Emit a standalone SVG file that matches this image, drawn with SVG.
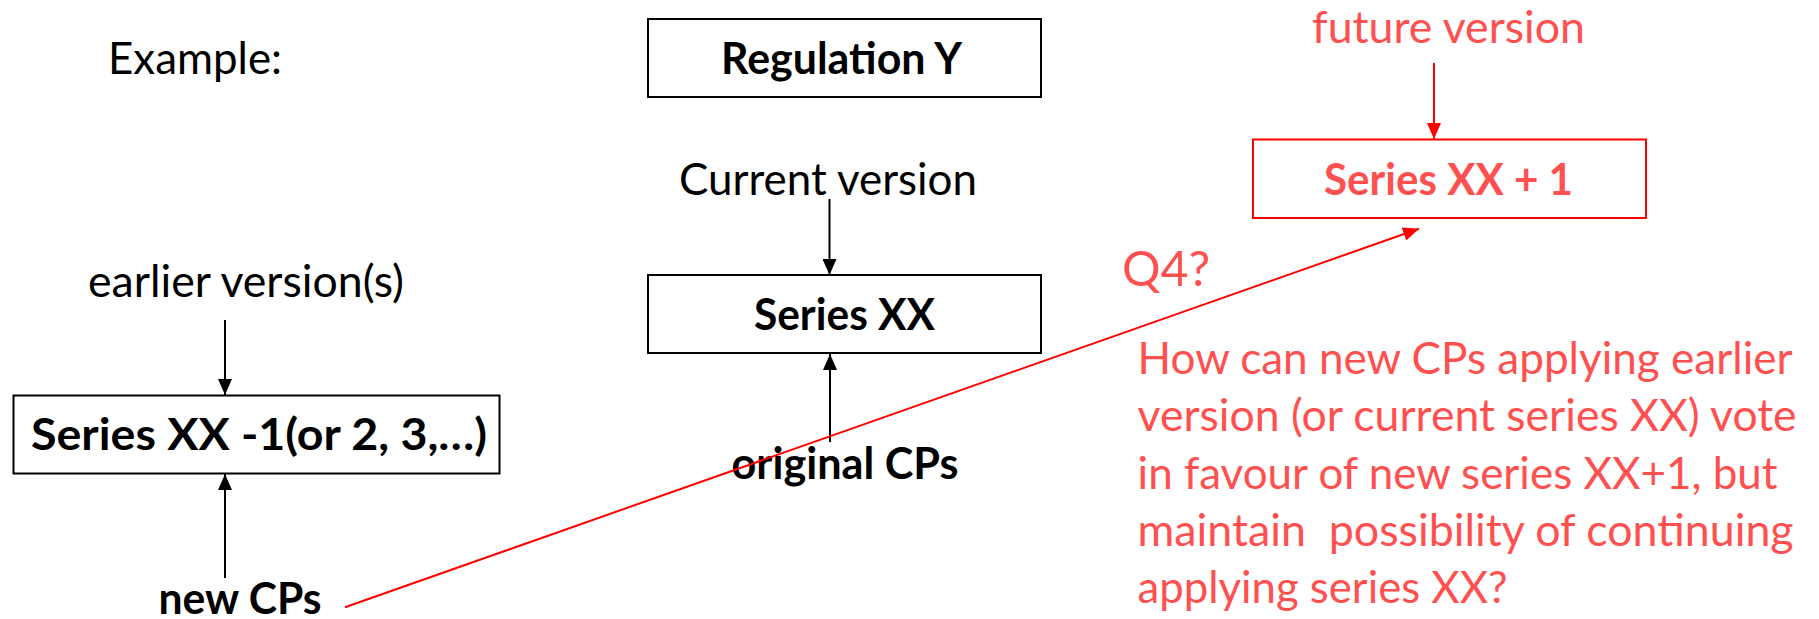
<svg xmlns="http://www.w3.org/2000/svg" width="1819" height="619" viewBox="0 0 1819 619">
  <style>
    text { font-family: Lato, "Open Sans", "Liberation Sans", sans-serif; font-size: 44px; }
    .b { font-weight: bold; }
    .red { fill: #FF5050; }
    .box { fill: #FFFFFF; stroke: #000000; stroke-width: 2; }
    .rbox { fill: #FFFFFF; stroke: #FF0000; stroke-width: 2; }
    .k { stroke: #000000; stroke-width: 2; fill: none; marker-end: url(#ah); }
    .r { stroke: #FF0000; stroke-width: 2; fill: none; marker-end: url(#ahr); }
  </style>
  <defs>
    <marker id="ah" markerUnits="userSpaceOnUse" markerWidth="16" markerHeight="14" refX="16" refY="7" orient="auto">
      <path d="M0,0 L16,7 L0,14 z" fill="#000000"/>
    </marker>
    <marker id="ahr" markerUnits="userSpaceOnUse" markerWidth="16" markerHeight="14" refX="16" refY="7" orient="auto">
      <path d="M0,0 L16,7 L0,14 z" fill="#FF0000"/>
    </marker>
  </defs>
  <rect width="1819" height="619" fill="#FFFFFF"/>

  <g id="example">
    <text x="108" y="73.5" textLength="174" lengthAdjust="spacingAndGlyphs">Example:</text>
  </g>

  <g id="regulation-y">
    <rect class="box" x="648" y="19" width="393" height="78"/>
    <text class="b" x="721" y="74" textLength="241" lengthAdjust="spacingAndGlyphs">Regulation Y</text>
  </g>

  <g id="current-version">
    <text x="679" y="194.5" textLength="298" lengthAdjust="spacingAndGlyphs">Current version</text>
  </g>

  <g id="series-xx">
    <rect class="box" x="648" y="275" width="393" height="78"/>
    <text class="b" x="754" y="330" textLength="181" lengthAdjust="spacingAndGlyphs">Series XX</text>
  </g>

  <g id="original-cps">
    <text class="b" x="731.5" y="478.5" textLength="227" lengthAdjust="spacingAndGlyphs">original CPs</text>
  </g>

  <g id="earlier-versions">
    <text x="88" y="297" textLength="316" lengthAdjust="spacingAndGlyphs">earlier version(s)</text>
  </g>

  <g id="series-xx-minus-1">
    <rect class="box" x="13.5" y="395.5" width="486" height="78"/>
    <text class="b" x="31" y="449.5" textLength="456" lengthAdjust="spacingAndGlyphs">Series XX -1(or 2, 3,…)</text>
  </g>

  <g id="new-cps">
    <text class="b" x="158.5" y="613.5" textLength="163" lengthAdjust="spacingAndGlyphs">new CPs</text>
  </g>

  <g id="future-version">
    <text class="red" x="1312" y="42.7" textLength="273" lengthAdjust="spacingAndGlyphs">future version</text>
  </g>

  <g id="series-xx-plus-1">
    <rect class="rbox" x="1253" y="139.5" width="393" height="78.5"/>
    <text class="b red" x="1324" y="194.5" textLength="249" lengthAdjust="spacingAndGlyphs">Series XX + 1</text>
  </g>

  <g id="q4">
    <text class="red" x="1122" y="286" style="font-size:49px" textLength="88" lengthAdjust="spacingAndGlyphs">Q4?</text>
    <text class="red" xml:space="preserve">
      <tspan x="1137.6" y="374" textLength="654" lengthAdjust="spacingAndGlyphs">How can new CPs applying earlier</tspan>
      <tspan x="1137.6" y="431.3" textLength="659" lengthAdjust="spacingAndGlyphs">version (or current series XX) vote</tspan>
      <tspan x="1137.6" y="488.6" textLength="640" lengthAdjust="spacingAndGlyphs">in favour of new series XX+1, but</tspan>
      <tspan x="1137.6" y="545.9" textLength="656" lengthAdjust="spacingAndGlyphs">maintain  possibility of continuing</tspan>
      <tspan x="1137.6" y="603.2" textLength="370" lengthAdjust="spacingAndGlyphs">applying series XX?</tspan>
    </text>
  </g>

  <g id="connectors">
    <line class="k" x1="829.5" y1="199" x2="829.5" y2="275"/>
    <line class="k" x1="830" y1="442" x2="830" y2="354"/>
    <line class="k" x1="225" y1="320" x2="225" y2="395"/>
    <line class="k" x1="225" y1="578" x2="225" y2="474"/>
    <line class="r" x1="1434" y1="63" x2="1434" y2="139"/>
    <line class="r" x1="345" y1="607.3" x2="1419" y2="228.7"/>
  </g>
</svg>
